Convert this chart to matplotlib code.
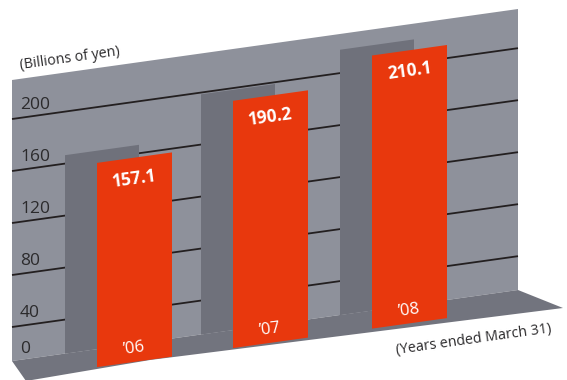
import matplotlib
matplotlib.use("Agg")
import matplotlib.pyplot as plt
from matplotlib.patches import Polygon
from matplotlib.transforms import Affine2D, offset_copy

plt.rcParams["font.family"] = ["Open Sans", "DejaVu Sans"]

# ── Data ───────────────────────────────────────────────────────────────────────
years  = ["\u201906", "\u201907", "\u201908"]
values = [157.1, 190.2, 210.1]
ticks  = [40, 80, 120, 160, 200]

WALL, SHADE, FLOOR = "#8e919b", "#6f717b", "#72747e"
RED, INK, LINE = "#e8380d", "#2b2a2c", "#231f20"

fig = plt.figure(figsize=(5.67, 3.80), dpi=100, facecolor="white")
ax = fig.add_axes([0, 0, 1, 1])
ax.set_xlim(0, 567)
ax.set_ylim(380, 0)
ax.axis("off")

# oblique planes: x stays horizontal, value axis rises with an 8° tilt
SLOPE = 0.14
front = Affine2D.from_values(1, -SLOPE, 0, -1.30, 0, 380.7) + ax.transData
back  = Affine2D.from_values(1, -SLOPE, 0, -1.263, 0, 362.7) + ax.transData

# back wall and floor
ax.add_patch(Polygon([(12, 80), (518, 9), (518, 290), (12, 361)],
                     closed=True, fc=WALL, ec="none", zorder=1))
ax.add_patch(Polygon([(12, 361), (518, 290), (563, 308), (150, 360), (26, 381)],
                     closed=True, fc=FLOOR, ec="none", zorder=1))

# gridlines across the wall
for v in ticks:
    ax.plot([12, 518], [v, v], color=LINE, lw=1.3, transform=front, zorder=2,
            solid_capstyle="butt")

# tick labels sit just above their lines
lab_front = offset_copy(front, fig=fig, x=0, y=5, units="dots")
for v in ticks:
    ax.text(20, v, str(v), transform=lab_front, fontsize=12.5, color=INK,
            ha="left", va="bottom", zorder=5)
ax.text(20, 0, "0", transform=offset_copy(back, fig=fig, x=0, y=3, units="dots"),
        fontsize=12.5, color=INK, ha="left", va="bottom", zorder=5)

# bars: dark back faces, then the red fronts
x_front = [97, 233, 372]
x_back = [x - 32 for x in x_front]
ax.bar(x_back, values, width=74, align="edge", color=SHADE, lw=0,
       transform=back, zorder=3)
ax.bar(x_front, values, width=75, align="edge", color=RED, lw=0,
       transform=front, zorder=4)

val_off = offset_copy(front, fig=fig, x=0, y=-21, units="dots")
yr_off = offset_copy(front, fig=fig, x=0, y=13, units="dots")
for xf, v, yr in zip(x_front, values, years):
    xc = xf + 37.5
    ax.text(xc, v, f"{v:.1f}", transform=val_off, fontsize=12.5, fontweight="bold",
            color="white", ha="center", va="center", rotation=8,
            rotation_mode="anchor", zorder=6)
    ax.text(xc, 0, yr, transform=yr_off, fontsize=12, color="white",
            ha="center", va="center", rotation=8, rotation_mode="anchor", zorder=6)

# captions
ax.text(20, 69, "(Billions of yen)", fontsize=10.3, color=INK, ha="left",
        va="baseline", rotation=8, rotation_mode="anchor", zorder=6)
ax.text(397, 354, "(Years ended March 31)", fontsize=10.3, color=INK, ha="left",
        va="baseline", rotation=8, rotation_mode="anchor", zorder=6)

fig.savefig("out.png", dpi=100, facecolor="white")
